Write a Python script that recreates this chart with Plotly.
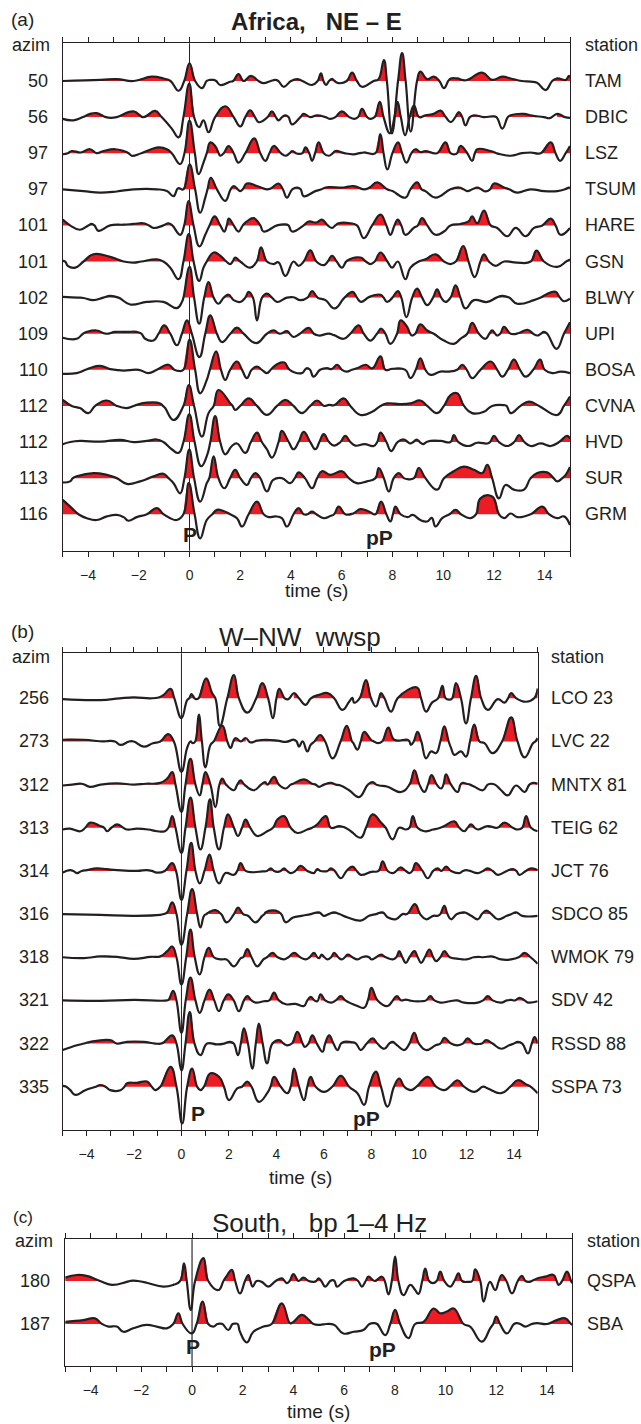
import plotly.graph_objects as go

W, H = 641, 1424
FONT = "Liberation Sans, Arial, sans-serif"
INK = "#231f20"
RED = "#ED1C24"

# ---------------- Panel (a): Africa, NE - E ----------------
A_AZIM = [50, 56, 97, 97, 101, 101, 102, 109, 110, 112, 112, 113, 116]
A_STATIONS = ["TAM", "DBIC", "LSZ", "TSUM", "HARE", "GSN", "BLWY", "UPI", "BOSA", "CVNA", "HVD", "SUR", "GRM"]

TAM = [(-5, 0), (-3.5, 0.03), (-2.87, 0.05), (-2.2, 0), (-1.49, 0.12), (-1.03, 0.07), (-0.75, 0), (-0.43, -0.27),
       (-0.21, 0), (0, 0.49), (0.22, 0), (0.49, -0.2), (0.68, 0), (0.8, 0.03), (0.95, 0.03), (1.05, 0), (1.21, -0.11),
       (1.6, -0.02), (1.72, 0), (1.93, 0.19), (2.13, 0), (2.42, 0.14), (2.72, 0), (2.92, -0.06), (3.2, 0), (3.38, 0.03),
       (3.5, 0), (3.71, -0.16), (4.0, 0), (4.24, 0.05), (4.45, 0), (4.83, -0.11), (5.05, 0), (5.18, 0.21), (5.28, 0),
       (5.38, -0.11), (5.5, 0), (5.62, 0.06), (5.72, 0), (5.88, -0.06), (6.2, 0), (6.41, 0.23), (6.6, 0), (6.8, -0.16),
       (7.26, 0), (7.45, 0.05), (7.66, 0.58), (7.78, 0), (7.98, -1.45), (8.22, 0), (8.38, 0.77), (8.52, 0),
       (8.72, -1.4), (8.97, 0), (9.1, 0.26), (9.37, 0.05), (9.63, 0.12), (9.85, 0), (10.03, -0.2), (10.2, 0),
       (10.3, 0.07), (10.55, 0.07), (10.9, 0.02), (11.54, 0.23), (11.93, 0.03), (12.33, 0.12), (12.66, 0.07),
       (13.1, 0), (13.45, -0.02), (13.7, -0.05), (14.04, -0.25), (14.3, 0), (14.5, 0.07), (14.83, 0.03), (14.96, 0.14),
       (15, 0.1)]
DBIC = [(-5, -0.05), (-4.58, -0.09), (-4.2, 0), (-3.92, 0.09), (-3.66, 0.11), (-3.3, 0), (-3.1, -0.02), (-2.87, 0),
        (-2.21, 0.16), (-1.82, 0), (-1.36, 0.17), (-1.1, 0), (-0.7, -0.32), (-0.43, -0.56), (-0.24, 0), (-0.01, 0.93),
        (0.18, 0), (0.38, -0.28), (0.55, -0.09), (0.75, -0.42), (1.01, 0), (1.41, 0.3), (1.74, 0), (2.0, -0.26),
        (2.2, 0), (2.39, 0.19), (2.58, 0), (2.72, -0.14), (2.9, -0.1), (3.08, 0), (3.25, 0.16), (3.4, 0), (3.51, -0.09),
        (3.65, 0), (3.78, 0.05), (3.9, 0), (4.04, -0.2), (4.37, 0), (4.5, 0.09), (4.76, 0), (5.03, 0.05), (5.36, 0),
        (5.55, -0.05), (5.75, 0), (6.0, 0.16), (6.3, 0), (6.5, -0.05), (6.65, 0), (6.8, 0.23), (7.0, 0), (7.13, -0.05),
        (7.3, 0), (7.5, 0.42), (7.65, 0), (7.9, -0.45), (8.08, 0), (8.2, 0.42), (8.33, 0), (8.5, -0.5), (8.68, 0),
        (8.85, 0.32), (9.05, 0), (9.3, 0.05), (9.63, 0.09), (9.9, 0.18), (10.1, 0), (10.3, -0.14), (10.48, 0),
        (10.62, 0.14), (10.75, 0), (10.88, -0.23), (11.05, 0), (11.21, 0.05), (11.6, 0), (11.93, 0.02), (12.1, 0),
        (12.33, -0.32), (12.55, 0), (12.66, 0.05), (13.18, 0.09), (13.5, 0.04), (13.97, 0), (14.2, -0.03), (14.5, 0.09),
        (14.8, 0), (15, -0.02)]
LSZ = [(-5, -0.03), (-4.8, 0), (-4.64, 0.06), (-4.3, 0.02), (-3.92, 0.11), (-3.66, 0), (-3.39, 0.06), (-2.93, 0.11),
       (-2.6, 0.06), (-2.4, 0), (-2.28, -0.07), (-1.9, 0), (-1.22, 0.16), (-0.89, 0.11), (-0.7, 0), (-0.37, -0.3),
       (-0.2, 0), (0, 0.9), (0.21, 0), (0.36, -0.58), (0.55, -0.26), (0.68, 0), (0.82, 0.3), (1.01, 0.2), (1.15, 0),
       (1.21, -0.07), (1.35, 0), (1.54, 0.2), (1.74, 0), (1.93, -0.26), (2.2, 0), (2.55, 0.41), (2.79, 0), (2.99, -0.21),
       (3.15, 0), (3.32, 0.2), (3.6, 0), (3.78, -0.07), (3.95, 0), (4.04, 0.06), (4.2, 0), (4.3, -0.02), (4.45, 0),
       (4.57, 0.16), (4.72, 0), (4.83, -0.21), (4.95, 0), (5.09, 0.3), (5.29, 0), (5.49, -0.07), (5.65, 0), (5.75, 0.06),
       (6.1, 0), (6.47, -0.03), (6.7, 0), (6.87, 0.02), (7.33, 0), (7.52, 0.53), (7.65, 0), (7.8, -0.45), (8.0, 0),
       (8.22, 0.3), (8.38, 0), (8.55, -0.26), (8.75, 0), (8.91, 0.11), (9.1, 0.03), (9.3, 0.06), (9.76, 0), (10.09, 0.3),
       (10.29, 0), (10.45, -0.03), (10.55, 0), (10.68, 0.2), (10.95, 0), (11.14, -0.21), (11.25, 0), (11.34, 0.11),
       (11.87, 0.06), (12.1, 0), (12.26, -0.03), (12.66, -0.07), (13.1, 0), (13.45, 0.02), (13.84, 0), (14.24, 0.3),
       (14.43, 0), (14.61, -0.21), (14.83, 0), (15, 0.2)]
TSUM = [(-5, 0), (-4.18, -0.05), (-3.53, -0.09), (-2.87, -0.06), (-2.21, 0), (-1.29, 0), (-0.89, -0.05),
        (-0.63, -0.19), (-0.45, 0.03), (-0.24, 0), (0, 0.69), (0.22, 0), (0.42, -0.65), (0.62, -0.23), (0.71, 0),
        (0.84, 0.32), (1.08, 0), (1.41, -0.32), (1.62, 0), (1.74, 0.09), (1.9, 0), (2.0, -0.05), (2.1, 0), (2.26, 0.16),
        (2.66, 0.09), (3.05, 0), (3.2, 0.02), (3.51, 0.16), (3.68, 0), (3.84, -0.23), (4.05, 0), (4.24, 0.05), (4.38, 0),
        (4.5, -0.19), (4.96, -0.05), (5.2, 0), (5.36, 0.05), (5.55, 0.06), (6.08, 0.05), (6.47, 0.09), (6.87, 0),
        (7.1, 0.05), (7.39, 0.19), (7.79, 0), (8.0, -0.05), (8.51, -0.23), (8.71, 0), (8.97, 0.19), (9.15, 0),
        (9.3, -0.05), (9.7, -0.23), (10.29, 0), (10.62, 0.05), (10.8, 0), (10.95, -0.05), (11.15, 0), (11.34, 0.05),
        (11.5, 0), (11.67, -0.06), (11.85, 0), (12.0, 0.16), (12.4, 0.05), (12.6, 0), (12.92, -0.09), (13.45, 0),
        (13.97, -0.05), (14.5, -0.05), (14.8, 0), (14.96, 0.05), (15, 0.03)]
HARE = [(-5, 0.16), (-4.71, 0), (-4.32, -0.12), (-3.99, 0), (-3.86, 0.04), (-3.75, 0), (-3.59, -0.15), (-3.13, 0),
        (-2.6, 0.02), (-2.21, 0.04), (-1.82, 0.06), (-1.6, 0), (-1.42, -0.07), (-1.03, 0), (-0.83, 0.06), (-0.68, 0),
        (-0.37, -0.26), (-0.21, 0), (-0.04, 0.67), (0.16, 0), (0.39, -0.58), (0.62, -0.26), (0.79, 0), (0.99, 0.25),
        (1.21, 0), (1.37, -0.17), (1.47, 0), (1.55, 0.19), (1.74, 0), (1.93, -0.17), (2.1, 0), (2.26, 0.11),
        (2.53, 0.2), (2.79, 0), (2.92, -0.17), (3.45, 0), (3.75, 0.03), (3.9, 0), (4.04, -0.17), (4.5, 0), (4.7, 0.11),
        (5.0, 0.08), (5.22, 0.16), (5.45, 0), (5.62, -0.07), (5.75, 0), (5.88, 0.06), (6.34, 0.06), (6.6, 0),
        (6.87, -0.35), (7.2, 0), (7.53, 0.3), (7.76, 0), (7.92, -0.26), (8.08, 0), (8.21, 0.16), (8.35, 0),
        (8.51, -0.26), (8.84, -0.07), (9.0, 0), (9.17, 0.2), (9.37, 0), (9.7, -0.26), (10.03, -0.17), (10.29, 0),
        (10.68, 0.04), (11.0, 0.11), (11.14, 0.25), (11.34, 0.06), (11.61, 0.41), (11.87, 0), (12.13, -0.07),
        (12.53, -0.3), (12.86, -0.07), (13.25, -0.3), (13.58, -0.07), (13.91, 0), (14.24, 0.19), (14.43, 0),
        (14.63, -0.26), (15, -0.07)]
GSN = [(-5, 0.02), (-4.9, 0), (-4.8, -0.12), (-4.51, -0.17), (-4.18, 0), (-3.79, 0.2), (-3.13, 0.13), (-2.6, 0),
       (-2.21, -0.03), (-1.9, 0), (-1.29, 0.06), (-1.03, 0), (-0.76, -0.17), (-0.43, -0.49), (-0.24, 0), (-0.03, 0.76),
       (0.16, 0), (0.38, -0.54), (0.55, -0.17), (0.68, 0), (0.95, 0.25), (1.21, 0.16), (1.45, 0), (1.6, -0.07),
       (1.7, 0), (1.8, 0.11), (2.0, 0), (2.39, -0.17), (2.65, 0), (2.82, 0.39), (3.05, 0), (3.32, -0.07),
       (3.5, -0.02), (3.78, -0.4), (4.1, 0), (4.3, -0.12), (4.5, 0), (4.76, 0.31), (5.0, 0), (5.3, -0.1), (5.45, 0),
       (5.62, 0.16), (5.8, 0), (6.01, -0.17), (6.21, 0.02), (6.74, 0.11), (6.95, 0), (7.13, -0.07), (7.3, 0),
       (7.53, 0.25), (7.8, 0), (7.99, -0.17), (8.21, 0), (8.51, -0.49), (8.71, -0.17), (9.04, 0), (9.3, 0.06),
       (9.7, 0.2), (10.03, 0), (10.29, -0.07), (10.5, 0), (10.79, 0.43), (11.0, 0), (11.24, -0.43), (11.47, 0),
       (11.61, 0.2), (11.8, 0), (12.07, -0.12), (12.4, 0), (12.9, -0.03), (13.45, 0), (13.68, 0.3), (13.97, 0),
       (14.5, -0.15), (14.85, 0), (15, 0.06)]
BLWY = [(-5, 0.02), (-4.4, 0), (-4.18, -0.01), (-3.79, -0.07), (-3.4, 0), (-3.13, 0.05), (-2.8, 0), (-2.34, -0.19),
        (-1.68, -0.12), (-1.03, -0.12), (-0.5, -0.29), (-0.3, -0.12), (-0.24, 0), (0, 0.85), (0.18, 0), (0.38, -0.72),
        (0.58, 0), (0.75, 0.43), (0.95, 0), (1.14, -0.17), (1.35, 0), (1.54, 0.08), (1.65, 0), (1.74, -0.07),
        (2.0, -0.12), (2.2, 0), (2.33, 0.16), (2.5, 0), (2.66, -0.63), (2.86, 0), (3.05, 0.11), (3.25, 0),
        (3.45, -0.12), (3.84, 0), (4.1, 0.01), (4.37, -0.07), (4.65, 0), (4.83, 0.18), (5.05, 0), (5.36, -0.07),
        (5.72, -0.3), (6.11, 0), (6.43, 0.16), (6.6, 0), (6.76, -0.12), (7.09, 0.02), (7.53, 0.08), (7.65, 0),
        (7.79, -0.12), (8.0, 0), (8.21, 0.18), (8.35, 0), (8.55, -0.54), (8.78, 0), (8.97, 0.25), (9.17, 0),
        (9.37, -0.21), (9.6, 0), (9.76, 0.23), (9.92, 0), (10.09, -0.12), (10.29, 0), (10.49, 0.34), (10.68, 0),
        (10.88, -0.3), (11.21, -0.07), (11.74, -0.12), (12.1, 0), (12.33, 0.05), (12.6, 0), (12.92, -0.17),
        (13.58, -0.07), (13.85, 0), (14.04, 0.08), (14.43, 0.16), (14.6, 0), (14.76, -0.1), (15, -0.03)]
UPI = [(-5, -0.11), (-4.45, -0.14), (-4.2, 0), (-4.05, 0.05), (-3.66, 0.09), (-3.3, 0), (-2.93, 0.05), (-2.47, 0.05),
       (-2.08, 0.05), (-1.9, 0), (-1.75, -0.14), (-1.42, -0.19), (-1.22, 0), (-1.0, 0.23), (-0.76, 0), (-0.5, -0.32),
       (-0.3, 0), (-0.1, 0.37), (0.09, 0), (0.39, -0.65), (0.62, 0), (0.82, 0.51), (1.08, 0), (1.28, -0.23), (1.61, 0),
       (1.87, 0.17), (2.13, 0), (2.63, -0.26), (3.05, 0), (3.32, 0.09), (3.55, 0), (3.84, 0.07), (3.95, 0),
       (4.1, -0.09), (4.35, 0), (4.7, 0.16), (4.9, 0), (5.09, -0.05), (5.49, 0), (5.7, -0.04), (6.08, -0.14),
       (6.34, 0), (6.67, 0.23), (6.87, 0), (7.13, -0.19), (7.39, 0), (7.55, 0.14), (7.72, 0), (7.92, -0.28),
       (8.18, 0), (8.32, 0.37), (8.58, 0.19), (8.7, 0), (8.78, -0.05), (8.9, 0), (9.1, 0.26), (9.37, 0.09), (9.63, 0),
       (10.03, -0.19), (10.42, -0.28), (10.68, -0.14), (10.95, 0), (11.14, 0.3), (11.41, 0), (11.67, -0.14),
       (11.82, 0), (11.93, 0.09), (12.05, 0), (12.13, -0.05), (12.25, 0), (12.4, 0.19), (12.66, 0), (12.99, 0.02),
       (13.32, 0.11), (13.55, 0), (13.71, -0.05), (13.85, 0), (13.97, 0.05), (14.1, 0), (14.47, -0.42), (14.76, 0),
       (15, 0.32)]
BOSA = [(-5, -0.11), (-4.45, -0.09), (-4.1, 0), (-3.92, 0.05), (-3.53, 0.11), (-3.13, 0.02), (-2.9, 0),
        (-2.6, -0.02), (-2.0, 0), (-1.62, -0.09), (-1.29, 0), (-0.83, 0.14), (-0.6, 0), (-0.45, -0.03), (-0.24, 0),
        (0, 0.83), (0.22, 0), (0.42, -0.65), (0.68, -0.28), (0.8, 0), (1.05, 0.51), (1.24, 0), (1.41, -0.28),
        (1.6, 0), (1.87, 0.23), (2.07, 0), (2.26, -0.23), (2.45, 0), (2.66, 0.09), (2.85, 0), (3.05, -0.09), (3.2, 0),
        (3.32, 0.09), (3.55, 0.19), (3.74, 0.2), (3.95, 0), (4.43, -0.09), (4.55, 0), (4.63, 0.05), (4.75, 0),
        (4.89, -0.19), (5.15, 0), (5.42, 0.05), (5.6, 0.02), (5.82, 0.14), (6.01, 0), (6.2, -0.05), (6.4, 0),
        (6.63, 0.05), (6.95, 0.14), (7.2, 0.04), (7.53, 0.37), (7.72, 0), (8.0, 0.03), (8.51, 0), (8.71, -0.23),
        (8.92, 0), (9.1, 0.32), (9.3, 0), (9.5, -0.14), (9.89, -0.05), (10.22, -0.05), (10.55, 0), (10.75, 0.14),
        (10.93, 0), (11.14, -0.23), (11.47, 0), (11.87, 0.23), (12.13, 0), (12.33, -0.19), (12.55, 0), (12.79, 0.28),
        (13.03, 0), (13.25, -0.19), (13.55, 0), (13.82, 0.28), (14.0, 0), (14.3, -0.09), (14.63, -0.05), (15, -0.09)]
CVNA = [(-5, 0.17), (-4.64, 0), (-4.32, -0.06), (-3.99, -0.2), (-3.72, 0), (-3.26, 0.15), (-2.87, 0), (-2.47, -0.06),
        (-2.2, 0), (-2.08, 0.03), (-1.68, 0.09), (-1.16, 0.07), (-1.05, 0), (-0.96, -0.06), (-0.63, -0.39),
        (-0.24, 0), (-0.03, 0.58), (0.18, 0), (0.49, -0.85), (0.75, -0.2), (0.95, 0), (1.14, 0.44), (1.61, 0.07),
        (1.7, 0), (1.8, -0.11), (2.0, 0), (2.33, 0.21), (2.66, 0), (3.05, -0.25), (3.45, 0), (3.78, 0.17), (4.1, 0),
        (4.43, -0.2), (4.76, 0), (5.03, 0.15), (5.3, 0), (5.5, 0.03), (5.7, 0.02), (6.08, 0.21), (6.34, 0),
        (6.74, -0.25), (7.2, -0.16), (7.53, 0), (7.79, 0.07), (8.3, 0.05), (8.71, 0.07), (9.1, 0.15), (9.37, 0),
        (9.76, -0.2), (10.03, 0), (10.29, 0.3), (10.55, 0.35), (10.82, 0), (11.14, -0.2), (11.61, -0.16), (11.93, 0),
        (12.4, 0.02), (12.5, 0), (12.66, -0.2), (13.05, 0), (13.38, 0.12), (13.78, 0), (14.5, -0.25), (14.76, 0),
        (15, 0.26)]
HVD = [(-5, -0.06), (-4.7, 0), (-4.32, 0.03), (-3.5, 0.01), (-2.74, 0.06), (-2.2, 0), (-1.68, 0.03), (-1.29, 0.07),
       (-1.03, 0), (-0.7, -0.2), (-0.43, -0.3), (-0.24, 0), (-0.01, 0.77), (0.2, 0), (0.46, -0.67), (0.68, -0.39),
       (0.82, 0), (1.01, 0.72), (1.21, 0), (1.41, -0.34), (1.67, -0.11), (1.87, -0.04), (2.2, -0.3), (2.42, 0),
       (2.66, 0.26), (2.85, 0), (3.05, -0.2), (3.25, -0.43), (3.51, 0), (3.64, 0.31), (3.91, 0), (4.1, -0.2),
       (4.3, 0), (4.5, 0.28), (4.76, 0), (4.96, -0.2), (5.12, 0), (5.29, 0.22), (5.5, 0), (5.7, -0.1), (5.95, 0),
       (6.14, 0.17), (6.34, 0), (6.54, -0.1), (6.9, -0.06), (7.26, -0.11), (7.4, 0), (7.53, 0.26), (7.76, 0),
       (7.95, -0.25), (8.2, 0), (8.45, 0.07), (8.6, 0), (8.7, -0.04), (8.82, 0), (8.95, 0.07), (9.08, 0),
       (9.2, -0.06), (9.35, 0), (9.5, 0.03), (9.9, 0.03), (10.29, 0), (10.42, 0.19), (10.6, 0), (11.0, -0.11),
       (11.34, -0.02), (11.74, -0.04), (11.85, 0), (12.0, 0.17), (12.2, 0), (12.53, -0.11), (12.8, 0), (12.99, 0.19),
       (13.2, 0), (13.45, -0.11), (13.84, -0.04), (14.24, -0.11), (14.57, 0), (14.89, 0.17), (15, 0.09)]
SUR = [(-5, -0.12), (-4.71, -0.09), (-4.6, 0), (-4.45, 0.05), (-3.79, 0.14), (-3.26, 0.09), (-2.87, 0),
       (-2.47, -0.16), (-1.95, -0.09), (-1.6, 0), (-1.42, 0.05), (-1.03, 0.12), (-0.83, 0), (-0.63, -0.14),
       (-0.37, -0.42), (-0.2, 0), (-0.01, 0.79), (0.18, 0), (0.42, -0.65), (0.68, -0.14), (0.78, 0), (0.95, 0.6),
       (1.14, 0), (1.37, -0.28), (1.6, 0), (1.8, 0.23), (2.0, 0), (2.26, -0.19), (2.42, 0), (2.59, 0.14), (2.79, 0),
       (3.05, -0.37), (3.3, -0.05), (3.64, 0), (3.97, -0.14), (4.15, 0), (4.3, 0.16), (4.55, 0), (4.83, -0.28),
       (5.03, 0), (5.22, 0.19), (5.55, 0.09), (6.01, 0.19), (6.28, 0), (6.59, -0.14), (6.99, -0.09), (7.33, 0),
       (7.46, 0.28), (7.66, 0), (7.86, -0.37), (8.05, 0), (8.25, 0.14), (8.45, 0), (8.6, -0.03), (8.85, 0),
       (9.04, 0.28), (9.3, 0), (9.76, -0.32), (10.03, 0), (10.42, 0.19), (10.82, 0.32), (11.21, 0.23), (11.54, 0.14),
       (11.74, 0.37), (11.93, 0), (12.2, -0.56), (12.46, -0.19), (12.79, -0.32), (13.18, -0.32), (13.45, 0),
       (13.71, 0.14), (14.1, 0.16), (14.35, 0), (14.5, -0.09), (14.7, 0), (14.83, 0.09), (15, 0.31)]
GRM = [(-5, 0.4), (-4.64, 0.17), (-4.38, 0), (-4.05, -0.11), (-3.66, -0.16), (-3.26, -0.06), (-2.87, -0.02),
       (-2.6, -0.08), (-2.41, -0.18), (-2.08, -0.08), (-1.68, 0), (-1.29, 0.17), (-1.03, 0), (-0.76, -0.11),
       (-0.5, -0.16), (-0.24, 0), (-0.03, 0.86), (0.2, 0), (0.42, -0.67), (0.68, -0.16), (0.9, 0), (1.08, 0.12),
       (1.34, 0.09), (1.6, 0), (1.87, -0.11), (2.07, -0.34), (2.33, 0), (2.66, 0.35), (2.92, 0), (3.12, -0.08),
       (3.4, -0.06), (3.64, -0.11), (3.84, -0.34), (4.1, 0), (4.3, 0.17), (4.5, 0), (4.65, 0), (4.83, 0.07), (5.0, 0),
       (5.29, -0.11), (5.55, -0.05), (5.7, 0), (5.88, 0.21), (6.14, 0), (6.45, 0.02), (6.74, 0.14), (7.09, 0.07),
       (7.33, 0), (7.55, 0.35), (7.76, 0), (7.92, -0.2), (8.02, 0), (8.12, 0.21), (8.32, 0), (8.6, -0.08),
       (8.8, -0.02), (9.1, -0.16), (9.37, -0.2), (9.55, -0.1), (9.7, -0.34), (9.96, -0.11), (10.25, 0),
       (10.49, 0.12), (10.7, 0), (11.08, -0.11), (11.3, 0), (11.47, 0.44), (11.93, 0.49), (12.2, 0), (12.4, -0.11),
       (12.66, 0.02), (12.92, -0.08), (13.45, 0), (13.91, 0.21), (14.17, 0), (14.5, -0.11), (14.76, -0.06),
       (15, -0.3)]

# ---------------- Panel (b): W-NW wwsp ----------------
B_AZIM = [256, 273, 312, 313, 314, 316, 318, 321, 322, 335]
B_STATIONS = ["LCO 23", "LVC 22", "MNTX 81", "TEIG 62", "JCT 76", "SDCO 85", "WMOK 79", "SDV 42", "RSSD 88", "SSPA 73"]

LCO = [(-5, -0.02), (-3.42, -0.04), (-2.6, 0), (-2.01, 0.02), (-1.3, 0), (-0.96, 0.02), (-0.75, 0.08),
       (-0.46, 0.22), (-0.3, 0), (0, -0.46), (0.24, -0.04), (0.33, 0), (0.42, 0.1), (0.55, 0), (0.62, -0.02),
       (0.72, 0), (1.04, 0.46), (1.29, 0.12), (1.43, 0), (1.62, -0.64), (1.93, 0), (2.21, 0.54), (2.42, 0),
       (2.77, -0.33), (3.15, 0), (3.4, 0.35), (3.65, 0), (3.85, -0.46), (4.0, 0), (4.12, 0.22), (4.35, 0),
       (4.5, -0.02), (4.74, 0.12), (4.95, 0), (5.23, -0.15), (5.45, 0), (5.79, 0.08), (6.15, 0.12), (6.43, 0),
       (6.78, -0.27), (7.06, -0.08), (7.2, 0.01), (7.27, -0.1), (7.5, 0), (7.77, 0.42), (7.98, 0), (8.19, -0.19),
       (8.32, 0), (8.4, 0.12), (8.55, 0), (8.82, -0.31), (9.1, 0), (9.52, 0.19), (9.92, 0.25), (10.09, 0),
       (10.3, -0.31), (10.55, -0.1), (10.8, 0), (10.99, 0.29), (11.12, 0), (11.3, -0.03), (11.4, 0), (11.56, 0.35),
       (11.77, 0), (11.98, -0.58), (12.19, 0), (12.41, 0.52), (12.62, 0), (12.9, -0.27), (13.32, -0.02),
       (13.6, -0.1), (13.75, 0), (13.88, 0.12), (14.1, 0), (14.51, -0.08), (14.85, 0), (15, 0.23)]
LVC = [(-5, 0.04), (-4.12, 0.04), (-3.3, 0), (-3.1, 0.01), (-2.8, 0), (-2.57, -0.08), (-2.2, 0), (-2.01, 0),
       (-1.59, -0.12), (-1.2, -0.04), (-0.89, 0), (-0.56, 0.17), (-0.32, 0), (0, -0.7), (0.24, -0.15), (0.38, 0),
       (0.48, -0.04), (0.58, 0), (0.73, 0.62), (0.86, 0), (1.01, -0.6), (1.22, -0.08), (1.36, 0), (1.72, 0.37),
       (1.93, 0), (2.07, -0.15), (2.18, 0), (2.28, 0.08), (2.5, 0), (2.7, 0.08), (2.9, -0.02), (3.19, 0.02),
       (3.54, 0.04), (4.04, 0.02), (4.4, -0.01), (4.74, 0.04), (4.85, 0), (4.95, -0.12), (5.1, 0), (5.3, -0.23),
       (5.44, -0.08), (5.6, 0), (5.84, 0.15), (6.05, 0), (6.36, -0.39), (6.7, 0), (6.96, 0.36), (7.18, 0),
       (7.24, -0.04), (7.41, -0.19), (7.55, 0), (7.69, 0.22), (7.98, 0.04), (8.1, 0), (8.26, -0.04), (8.45, 0),
       (8.71, 0.32), (8.96, 0.04), (9.52, 0.04), (9.6, 0), (9.66, -0.08), (9.78, 0), (9.94, 0.22), (10.1, 0),
       (10.3, -0.39), (10.51, -0.23), (10.72, -0.27), (10.9, 0), (11.07, 0.35), (11.25, 0), (11.35, -0.15),
       (11.49, -0.31), (11.77, -0.23), (11.98, -0.35), (12.15, 0), (12.33, 0.39), (12.55, 0), (12.76, -0.04),
       (13.1, -0.27), (13.5, 0), (13.88, 0.56), (14.15, 0), (14.45, -0.37), (14.8, -0.04), (14.9, 0), (15, 0.08)]
MNTX = [(-5, -0.02), (-4.6, 0), (-4.2, 0.02), (-3.84, -0.05), (-3.4, 0), (-2.71, 0.03), (-2.0, 0), (-1.5, 0.02),
        (-0.89, 0.04), (-0.6, 0.14), (-0.39, 0.29), (-0.25, 0), (0, -0.63), (0.17, 0), (0.38, 0.6), (0.59, 0),
        (0.77, -0.25), (0.88, 0), (1.01, 0.29), (1.22, 0), (1.43, -0.52), (1.6, 0), (1.72, 0.14), (1.88, 0),
        (2.21, -0.13), (2.35, 0), (2.49, 0.1), (2.65, 0), (3.05, -0.13), (3.35, 0), (3.52, 0.06), (3.62, 0),
        (3.9, 0.18), (4.1, 0), (4.39, -0.09), (4.6, 0), (4.7, 0.02), (5.16, 0.12), (5.5, 0.02), (5.65, 0),
        (5.79, -0.05), (6.0, 0), (6.29, 0.04), (6.5, 0), (6.7, -0.02), (7.06, -0.13), (7.48, -0.29), (7.85, 0),
        (8.05, 0.06), (8.2, 0), (8.33, -0.02), (8.68, -0.05), (9.24, -0.17), (9.6, 0), (9.81, 0.33), (10.02, 0),
        (10.23, -0.17), (10.38, 0), (10.53, 0.22), (10.75, 0), (10.93, -0.09), (11.03, 0), (11.14, 0.24), (11.35, 0),
        (11.63, -0.17), (11.75, 0), (11.84, 0.04), (12.0, 0.02), (12.15, 0), (12.34, -0.05), (12.69, -0.13),
        (12.9, 0), (13.04, 0.02), (13.2, 0), (13.46, -0.13), (13.74, -0.25), (14.09, -0.02), (14.45, -0.17),
        (14.65, 0), (14.8, 0.04), (15, 0.02)]
TEIG = [(-5, -0.04), (-4.7, -0.02), (-4.26, -0.08), (-4.05, 0), (-3.84, 0.12), (-3.42, 0.04), (-3.25, 0),
        (-3.14, -0.08), (-2.95, 0), (-2.71, 0.08), (-2.45, 0), (-2.29, -0.04), (-1.87, -0.02), (-1.4, -0.04),
        (-1.03, -0.08), (-0.7, -0.08), (-0.55, 0), (-0.39, 0.27), (-0.25, 0), (0, -0.58), (0.17, 0), (0.38, 0.7),
        (0.59, 0), (0.8, -0.5), (1.01, 0), (1.2, 0.66), (1.36, 0), (1.58, -0.5), (1.79, 0), (1.96, 0.31), (2.21, 0),
        (2.38, -0.19), (2.55, 0), (2.7, 0.19), (2.9, 0), (3.19, -0.19), (3.61, -0.08), (3.85, 0), (4.04, 0.19),
        (4.32, 0.27), (4.6, 0), (4.88, -0.12), (5.3, -0.04), (5.5, 0), (5.72, 0.08), (6.08, 0.27), (6.29, 0),
        (6.65, 0.04), (6.9, 0), (7.13, -0.08), (7.55, -0.23), (7.77, 0), (8.05, 0.31), (8.4, 0.12), (8.6, 0),
        (8.89, -0.27), (9.17, 0), (9.45, -0.04), (9.6, 0), (9.74, 0.27), (9.94, 0), (10.23, -0.08), (10.6, -0.04),
        (10.9, 0), (11.07, 0.04), (11.49, 0.15), (11.7, 0), (11.91, -0.08), (12.05, 0), (12.19, 0.08), (12.35, 0),
        (12.48, -0.04), (12.9, 0.04), (13.3, 0), (13.6, 0.12), (13.95, 0), (14.17, -0.04), (14.35, 0),
        (14.51, 0.27), (14.72, 0), (15, -0.08)]
JCT = [(-5, -0.04), (-4.85, 0), (-4.68, 0.02), (-4.55, 0), (-4.4, -0.05), (-4.2, 0), (-3.98, 0.02), (-3.56, 0.06),
       (-3.14, 0.04), (-2.71, 0.02), (-1.87, 0), (-1.45, 0.02), (-1.25, 0), (-1.03, -0.04), (-0.7, 0),
       (-0.39, 0.18), (-0.23, 0), (0, -0.67), (0.21, 0), (0.41, 0.65), (0.59, 0), (0.77, -0.29), (0.97, 0),
       (1.18, 0.38), (1.36, 0), (1.58, -0.29), (1.86, -0.05), (2.21, -0.09), (2.35, 0), (2.49, 0.18), (2.7, 0),
       (3.0, -0.03), (3.4, -0.01), (3.6, 0), (3.76, 0.06), (3.9, 0), (4.04, -0.02), (4.18, 0), (4.32, 0.06),
       (4.45, 0), (4.6, -0.05), (4.8, 0), (5.02, 0.12), (5.3, 0), (5.58, -0.05), (5.65, 0), (5.72, 0.04), (5.85, 0),
       (6.0, -0.01), (6.15, 0), (6.29, 0.06), (6.45, 0), (6.71, -0.17), (6.95, 0), (7.2, 0.1), (7.38, 0),
       (7.55, -0.09), (8.0, -0.02), (8.3, 0), (8.47, 0.22), (8.68, 0), (8.9, -0.05), (9.05, 0), (9.21, 0.08),
       (9.45, 0), (9.6, -0.05), (9.72, 0), (9.87, 0.18), (10.15, 0), (10.37, -0.17), (10.6, 0), (10.79, 0.06),
       (10.95, 0), (11.14, 0.1), (11.35, 0), (11.7, -0.05), (11.85, 0), (11.98, 0.02), (12.15, 0), (12.48, -0.05),
       (12.7, 0), (12.9, 0.06), (13.1, 0), (13.32, -0.09), (13.7, 0), (13.95, 0.04), (14.1, 0), (14.23, -0.09),
       (14.5, 0), (14.73, 0.06), (15, 0.02)]
SDCO = [(-5, 0), (-3.42, -0.02), (-2.01, -0.04), (-0.89, -0.02), (-0.75, 0), (-0.6, 0.04), (-0.39, 0.27),
        (-0.21, 0), (0, -0.71), (0.24, 0), (0.45, 0.58), (0.66, 0), (0.8, -0.31), (0.95, -0.04), (1.05, 0),
        (1.15, 0.04), (1.43, 0.09), (1.67, 0), (1.9, -0.19), (2.21, 0), (2.38, 0.15), (2.6, 0), (2.8, -0.04),
        (3.12, -0.19), (3.4, -0.04), (3.5, 0), (3.54, 0.04), (3.97, 0.08), (4.2, 0), (4.39, -0.19), (4.7, -0.08),
        (5.05, -0.04), (5.45, 0), (5.79, 0.04), (6.0, -0.04), (6.2, 0), (6.43, 0.04), (6.65, 0), (7.0, -0.08),
        (7.55, -0.15), (7.9, -0.04), (8.2, 0), (8.47, 0.04), (8.7, -0.08), (9.03, -0.12), (9.31, 0), (9.5, 0),
        (9.83, 0.23), (10.05, 0), (10.3, -0.12), (10.6, -0.04), (10.8, -0.04), (10.9, 0), (11.07, 0.19), (11.2, 0),
        (11.35, -0.12), (11.6, 0), (11.91, 0.04), (12.2, -0.04), (12.48, -0.12), (12.65, 0), (12.83, 0.08),
        (13.05, 0), (13.32, -0.12), (13.7, -0.04), (13.9, 0), (14.09, 0.04), (14.35, -0.04), (15, -0.04)]
WMOK = [(-5, 0), (-4.1, -0.02), (-3.42, 0.02), (-2.71, 0.01), (-2.01, -0.04), (-1.3, 0.01), (-0.89, 0.02),
        (-0.6, 0.14), (-0.39, 0.25), (-0.21, 0), (0, -0.63), (0.2, 0), (0.38, 0.64), (0.56, 0), (0.77, -0.4),
        (0.97, 0), (1.15, 0.22), (1.36, 0), (1.65, -0.05), (1.9, -0.05), (2.21, -0.21), (2.5, -0.02), (2.6, 0),
        (2.77, 0.19), (2.95, 0), (3.19, -0.21), (3.45, -0.05), (3.6, 0), (3.83, 0.1), (4.05, 0), (4.32, -0.05),
        (4.5, 0), (4.74, 0.1), (5.0, 0), (5.23, -0.05), (5.4, 0), (5.58, 0.1), (5.72, 0), (5.8, -0.02), (5.9, 0.06),
        (6.02, 0), (6.15, -0.05), (6.3, 0), (6.43, 0.1), (6.6, 0), (6.75, -0.05), (6.88, 0), (7.0, 0.06), (7.2, 0),
        (7.4, -0.05), (7.6, 0), (7.77, 0.02), (7.9, 0), (8.0, -0.05), (8.2, 0), (8.4, 0.06), (8.6, 0), (8.9, -0.05),
        (9.05, 0), (9.17, 0.14), (9.3, 0), (9.45, -0.13), (9.6, 0), (9.81, 0.14), (9.95, 0), (10.09, -0.13),
        (10.25, 0), (10.44, 0.18), (10.6, 0), (10.72, -0.09), (10.9, 0), (11.07, 0.14), (11.3, 0), (11.6, -0.03),
        (12.0, -0.05), (12.3, 0), (12.5, 0.01), (12.7, 0), (13.04, 0.02), (13.2, 0), (13.46, -0.05), (13.88, -0.05),
        (14.2, 0), (14.45, 0.1), (14.7, 0), (15, -0.15)]
SDV = [(-5, 0), (-3.4, -0.01), (-2.0, 0.01), (-0.6, 0), (-0.53, 0.02), (-0.35, 0.22), (-0.21, 0), (0, -0.75),
       (0.18, 0), (0.38, 0.53), (0.59, 0), (0.77, -0.29), (0.97, 0), (1.18, 0.25), (1.38, 0), (1.58, -0.25),
       (1.78, 0), (1.97, 0.14), (2.2, 0), (2.42, -0.25), (2.63, 0), (2.77, 0.1), (2.95, 0), (3.12, -0.05),
       (3.47, -0.02), (3.7, 0), (3.9, 0.18), (4.1, 0), (4.4, -0.09), (4.8, -0.08), (5.16, -0.13), (5.3, 0),
       (5.44, 0.08), (5.6, 0), (5.72, -0.02), (5.86, 0.14), (6.05, 0), (6.3, -0.05), (6.5, 0), (6.71, 0.1),
       (6.9, 0), (7.41, -0.13), (7.69, -0.17), (7.85, 0), (8.0, 0.29), (8.26, 0), (8.68, -0.13), (8.9, 0),
       (9.07, 0.1), (9.25, 0), (9.45, 0.02), (9.6, 0), (9.8, -0.02), (10.1, -0.02), (10.3, 0), (10.48, 0.1),
       (10.65, 0), (10.9, -0.05), (11.3, -0.02), (11.6, 0), (11.9, -0.05), (12.48, -0.05), (12.7, 0), (12.9, 0.1),
       (13.1, 0), (13.46, -0.05), (13.7, 0), (13.88, 0.01), (14.05, 0), (14.23, 0.06), (14.45, 0), (14.6, -0.05),
       (15, -0.02)]
RSSD = [(-5, -0.15), (-4.4, -0.04), (-4.1, 0), (-3.84, 0.04), (-3.0, 0.08), (-2.71, 0), (-2.3, 0.04),
        (-1.59, 0.04), (-1.1, 0), (-0.8, 0.01), (-0.39, 0.19), (-0.21, 0), (0, -0.62), (0.17, 0), (0.35, 0.73),
        (0.55, 0), (0.8, -0.27), (1.08, 0), (1.5, -0.02), (1.8, 0), (2.04, 0.04), (2.2, 0), (2.38, -0.27), (2.5, 0),
        (2.63, 0.35), (2.8, 0), (2.98, -0.58), (3.13, 0), (3.26, 0.46), (3.42, 0), (3.61, -0.46), (3.83, 0),
        (4.11, 0.08), (4.3, 0), (4.45, -0.04), (4.65, 0), (4.88, 0.27), (5.1, 0), (5.2, -0.08), (5.35, 0),
        (5.51, 0.19), (5.7, 0), (5.94, -0.19), (6.05, 0), (6.22, 0.19), (6.4, 0), (6.57, -0.15), (6.72, 0),
        (6.85, 0.04), (7.2, 0.03), (7.35, 0), (7.55, -0.15), (7.8, 0), (8.05, 0.12), (8.25, 0), (8.54, -0.12),
        (8.75, 0), (8.89, 0.04), (9.0, 0), (9.1, -0.05), (9.38, -0.15), (9.6, 0), (9.8, 0.25), (10.0, 0),
        (10.3, -0.15), (10.7, -0.04), (10.9, 0), (11.07, 0.13), (11.35, 0), (11.63, -0.04), (11.85, 0),
        (12.05, 0.12), (12.3, 0), (12.5, -0.01), (12.65, 0), (12.83, 0.08), (13.1, 0), (13.46, -0.12),
        (13.8, -0.04), (14.0, 0), (14.16, 0.04), (14.35, 0), (14.59, -0.23), (14.75, 0), (14.87, 0.15), (15, 0)]
SSPA = [(-5, 0.02), (-4.85, 0), (-4.68, -0.08), (-4.47, -0.19), (-4.05, -0.08), (-3.6, 0), (-3.42, 0.04),
        (-3.2, 0), (-3.0, -0.08), (-2.57, -0.08), (-2.4, 0), (-2.29, 0.08), (-1.87, 0.09), (-1.45, 0.12),
        (-1.25, 0), (-1.1, -0.08), (-0.89, 0), (-0.46, 0.46), (-0.21, 0), (0.03, -0.85), (0.24, 0), (0.45, 0.42),
        (0.66, 0), (0.8, -0.08), (0.95, 0), (1.22, 0.31), (1.58, 0.23), (1.79, 0), (2.0, -0.31), (2.35, -0.04),
        (2.55, 0), (2.77, 0.12), (2.95, 0), (3.26, -0.35), (3.61, -0.15), (3.75, 0), (3.9, 0.23), (4.18, 0),
        (4.46, -0.15), (4.6, 0), (4.74, 0.42), (4.95, 0), (5.16, -0.31), (5.3, 0), (5.44, 0.23), (5.65, 0),
        (6.01, -0.12), (6.35, 0), (6.71, 0.25), (7.06, 0), (7.41, -0.15), (7.69, -0.42), (7.9, 0), (8.19, 0.35),
        (8.4, 0), (8.68, -0.46), (8.95, 0), (9.17, 0.19), (9.38, 0), (9.66, -0.08), (9.9, 0), (10.37, 0.23),
        (10.72, 0), (11.07, -0.08), (11.3, 0), (11.63, 0.15), (11.9, 0), (12.34, -0.12), (12.7, 0), (12.9, -0.04),
        (13.46, -0.15), (13.85, 0), (14.16, 0.15), (14.5, 0.06), (14.7, 0), (15, -0.15)]

# ---------------- Panel (c): South, bp 1-4 Hz ----------------
C_AZIM = [180, 187]
C_STATIONS = ["QSPA", "SBA"]

QSPA = [(-5, 0.08), (-4.55, 0.14), (-4.16, 0.12), (-3.63, 0), (-3.17, -0.09), (-2.58, -0.02), (-2.45, 0),
        (-2.32, 0.01), (-2.15, 0), (-1.79, -0.04), (-1.13, -0.13), (-0.74, -0.09), (-0.47, 0), (-0.32, 0.41),
        (-0.21, 0), (-0.05, -0.67), (0.12, 0), (0.45, 0.53), (0.64, 0), (1.04, -0.21), (1.24, 0), (1.37, 0.12),
        (1.57, 0.26), (1.7, 0), (1.89, -0.29), (2.09, 0), (2.22, 0.14), (2.3, 0), (2.39, -0.13), (2.55, 0),
        (2.75, -0.02), (3.01, -0.13), (3.3, 0), (3.54, 0.06), (3.65, 0), (3.74, -0.05), (3.85, 0), (4.0, 0.16),
        (4.2, 0), (4.39, 0.08), (4.6, 0), (4.8, -0.02), (4.9, 0), (4.99, 0.06), (5.1, 0), (5.25, -0.13), (5.45, 0),
        (5.55, 0.02), (5.62, 0), (5.72, -0.13), (6.0, 0), (6.37, 0.06), (6.55, 0), (6.7, -0.13), (6.85, 0),
        (6.96, 0.1), (7.2, 0), (7.49, 0.1), (7.6, 0), (7.75, -0.31), (7.88, 0), (8.01, 0.57), (8.14, 0),
        (8.34, -0.33), (8.61, -0.09), (8.8, -0.21), (8.93, -0.3), (9.08, 0), (9.2, 0.29), (9.35, 0), (9.5, -0.05),
        (9.65, 0), (9.79, 0.22), (9.95, 0), (10.18, -0.13), (10.35, 0), (10.51, 0.18), (10.65, 0), (10.9, -0.02),
        (11.05, 0), (11.17, 0.27), (11.37, 0), (11.5, -0.48), (11.75, -0.02), (11.96, -0.21), (12.1, 0),
        (12.22, 0.14), (12.4, 0), (12.62, -0.29), (12.85, 0), (13.01, 0.12), (13.15, 0), (13.28, -0.02), (13.4, 0),
        (13.61, 0.06), (13.93, 0.1), (14.26, 0.14), (14.38, 0), (14.46, -0.09), (14.6, 0), (14.79, 0.22),
        (14.95, 0), (15, -0.05)]
SBA = [(-5, 0.05), (-4.29, 0.09), (-3.83, 0.13), (-3.55, 0), (-3.3, -0.06), (-2.97, -0.06), (-2.71, -0.18),
       (-2.32, -0.1), (-1.79, -0.02), (-1.39, -0.06), (-1.0, -0.1), (-0.74, 0), (-0.54, 0.25), (-0.37, 0),
       (-0.01, -0.22), (0.18, 0), (0.42, 0.52), (0.64, 0), (0.84, -0.06), (1.0, 0), (1.1, 0.01), (1.2, 0),
       (1.43, -0.14), (1.6, 0), (1.7, 0.01), (1.8, 0), (1.89, -0.18), (2.16, -0.43), (2.42, -0.18), (2.82, -0.06),
       (3.14, 0), (3.54, 0.48), (3.87, 0.02), (4.0, 0.05), (4.33, 0.21), (4.6, 0.1), (4.79, 0), (5.05, -0.02),
       (5.3, 0), (5.6, -0.02), (5.97, -0.22), (6.37, -0.18), (6.76, -0.14), (7.0, 0), (7.16, 0.02), (7.3, 0),
       (7.62, -0.26), (7.82, 0), (8.01, 0.33), (8.21, 0), (8.54, -0.33), (8.8, 0), (9.13, 0.05), (9.53, 0.36),
       (9.79, 0.25), (10.05, 0.29), (10.32, 0.36), (10.71, 0), (10.97, -0.06), (11.43, -0.41), (11.76, -0.1),
       (11.88, 0), (12.0, 0.17), (12.15, 0), (12.42, -0.22), (12.7, 0), (12.82, 0.02), (12.95, 0), (13.14, -0.06),
       (13.4, 0), (13.61, 0.02), (14.0, 0), (14.39, 0.09), (14.72, 0.13), (14.95, 0), (15, -0.02)]

TICK_VALUES = list(range(-5, 16))
TICK_LABELS = [("\u2212" + str(-v) if v < 0 else str(v)) if v % 2 == 0 else "" for v in TICK_VALUES]
SMOOTH = 1.3


def X(px):
    return px / W


def Y(py):
    return 1 - py / H


def positive_lobes(wave, offset):
    """Split a trace into its above-baseline lobes (bounded by the baseline), separated by gaps."""
    xs, ys = [], []
    n = len(wave)
    i = 0
    while i < n:
        if wave[i][1] > 0:
            j = i
            while j < n and wave[j][1] > 0:
                j += 1
            start = wave[i - 1] if i > 0 and wave[i - 1][1] == 0 else (wave[i][0], 0)
            end = wave[j] if j < n and wave[j][1] == 0 else (wave[j - 1][0], 0)
            pts = [start] + wave[i:j] + [end]
            xs += [p[0] for p in pts] + [None]
            ys += [offset + p[1] for p in pts] + [None]
            i = j
        else:
            i += 1
    return xs, ys


panels = [
    dict(ax="", waves=[TAM, DBIC, LSZ, TSUM, HARE, GSN, BLWY, UPI, BOSA, CVNA, HVD, SUR, GRM],
         azim=A_AZIM, names=A_STATIONS, xpx=(62.7, 570.0), ypx=(43.3, 550.7), yr=(-13.01, 1.044),
         azim_x=49.5, name_x=582.5),
    dict(ax="2", waves=[LCO, LVC, MNTX, TEIG, JCT, SDCO, WMOK, SDV, RSSD, SSPA],
         azim=B_AZIM, names=B_STATIONS, xpx=(62.7, 537.7), ypx=(653.3, 1130.0), yr=(-10.003, 1.043),
         azim_x=50.5, name_x=549.0),
    dict(ax="3", waves=[QSPA, SBA],
         azim=C_AZIM, names=C_STATIONS, xpx=(65.3, 572.3), ypx=(1239.3, 1366.0), yr=(-1.977, 0.97),
         azim_x=52.0, name_x=585.0),
]

fig = go.Figure()
layout = dict(width=W, height=H, margin=dict(l=0, r=0, t=0, b=0), paper_bgcolor="white",
              plot_bgcolor="white", showlegend=False, font=dict(family=FONT, color=INK))
annotations = []
shapes = []

for p in panels:
    xa, ya = "x" + p["ax"], "y" + p["ax"]
    for i, wave in enumerate(p["waves"]):
        fx, fy = positive_lobes(wave, -i)
        fig.add_trace(go.Scatter(x=fx, y=fy, mode="lines", connectgaps=False,
                                 line=dict(width=0, shape="spline", smoothing=SMOOTH, color=RED),
                                 fill="toself", fillcolor=RED, xaxis=xa, yaxis=ya, hoverinfo="skip"))
    for i, wave in enumerate(p["waves"]):
        t = [a for a, _ in wave]
        v = [b for _, b in wave]
        fig.add_trace(go.Scatter(x=t, y=[-i + b for b in v], mode="lines",
                                 line=dict(width=2.2, shape="spline", smoothing=SMOOTH, color=INK),
                                 xaxis=xa, yaxis=ya, hoverinfo="skip"))
    layout["xaxis" + p["ax"]] = dict(
        domain=[X(p["xpx"][0]), X(p["xpx"][1])], range=[-5, 15], anchor=ya,
        tickmode="array", tickvals=TICK_VALUES, ticktext=TICK_LABELS,
        ticks="outside", ticklen=5, tickwidth=1, tickcolor=INK, mirror="ticks",
        showline=True, linecolor=INK, linewidth=1.3, showgrid=False, zeroline=False,
        tickfont=dict(size=14, family=FONT, color=INK), ticklabelstandoff=6)
    layout["yaxis" + p["ax"]] = dict(
        domain=[Y(p["ypx"][1]), Y(p["ypx"][0])], range=list(p["yr"]), anchor=xa,
        showline=True, mirror=True, linecolor=INK, linewidth=1.3, showgrid=False, zeroline=False,
        showticklabels=False, ticks="")
    shapes.append(dict(type="line", xref=xa, yref=ya + " domain", x0=0, x1=0, y0=0, y1=1,
                       line=dict(color=INK if p["ax"] != "3" else "#555555", width=1 if p["ax"] != "3" else 1.5),
                       layer="below"))
    for i, (az, nm) in enumerate(zip(p["azim"], p["names"])):
        annotations.append(dict(text=str(az), xref="paper", yref=ya, x=X(p["azim_x"]), y=-i,
                                xanchor="right", yanchor="middle", showarrow=False,
                                font=dict(size=18, family=FONT, color=INK)))
        annotations.append(dict(text=nm, xref="paper", yref=ya, x=X(p["name_x"]), y=-i,
                                xanchor="left", yanchor="middle", showarrow=False,
                                font=dict(size=18, family=FONT, color=INK)))


def ann(text, x, y, size, xanchor="center", bold=False):
    if bold:
        text = "<b>" + text + "</b>"
    annotations.append(dict(text=text, xref="paper", yref="paper", x=X(x), y=Y(y), xanchor=xanchor,
                            yanchor="middle", showarrow=False, font=dict(size=size, family=FONT, color=INK)))


NB = "\u00a0"
ann("(a)", 9, 19, 19, "left")
ann("(b)", 9, 631, 19, "left")
ann("(c)", 11, 1217, 17, "left")
ann("Africa," + NB * 3 + "NE " + "\u2013" + " E", 316.5, 21.5, 24, bold=True)
ann("W\u2013NW" + NB * 2 + "wwsp", 300.2, 636.5, 26)
ann("South," + NB * 3 + "bp 1\u20134 Hz", 319, 1222.5, 26)
ann("azim", 10, 45.5, 18, "left")
ann("azim", 10, 657, 18, "left")
ann("azim", 12.5, 1241, 18, "left")
ann("station", 582.5, 45.5, 18, "left")
ann("station", 549, 656.5, 18, "left")
ann("station", 585, 1240.5, 18, "left")
ann("time (s)", 316.3, 591, 19)
ann("time (s)", 300.2, 1177, 19)
ann("time (s)", 318.8, 1411, 19)
ann("P", 189.7, 534, 21, bold=True)
ann("pP", 379, 537.5, 21, bold=True)
ann("P", 198, 1113, 21, bold=True)
ann("pP", 366.7, 1118, 21, bold=True)
ann("P", 192.5, 1346, 21, bold=True)
ann("pP", 382.5, 1349.5, 21, bold=True)

layout["annotations"] = annotations
layout["shapes"] = shapes
fig.update_layout(**layout)
fig.write_html("out.html", config={"displayModeBar": False},
               post_script="document.body.style.margin='0px';document.body.style.padding='0px';"
                           "document.documentElement.style.overflow='hidden';")
